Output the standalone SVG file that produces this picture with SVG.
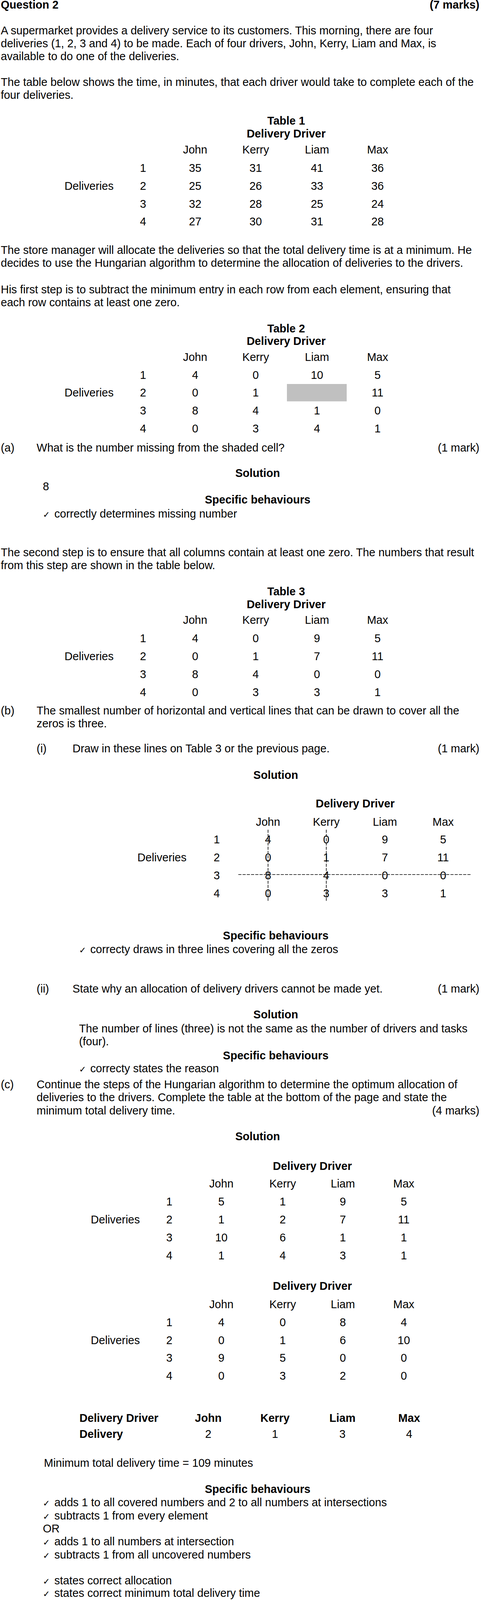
<svg xmlns="http://www.w3.org/2000/svg" width="1245" height="4149" viewBox="0 0 1245 4149" style="display:block;overflow:hidden">
<style>
text{font-family:"Liberation Sans",Arial,sans-serif;font-size:29px;fill:#000}
.b{font-weight:bold}
.c{text-anchor:middle}
.r{text-anchor:end}
.ck{font-family:"DejaVu Sans",sans-serif;font-size:22px}
.dash{stroke:#000;stroke-width:1.6;stroke-dasharray:8 3;fill:none}
</style>
<rect x="0" y="0" width="1245" height="4149" fill="#fff"/>
<g id="page" transform="scale(0.98795)">

<g id="header">
<text class="b" x="2" y="22">Question 2</text>
<text class="b r" x="1243" y="22">(7 marks)</text>
</g>

<g id="intro">
<text x="2" y="89">A supermarket provides a delivery service to its customers. This morning, there are four</text>
<text x="2" y="122.4">deliveries (1, 2, 3 and 4) to be made. Each of four drivers, John, Kerry, Liam and Max, is</text>
<text x="2" y="155.8">available to do one of the deliveries.</text>
<text x="2" y="222.6">The table below shows the time, in minutes, that each driver would take to complete each of the</text>
<text x="2" y="256">four deliveries.</text>
</g>

<g id="table1">
<text class="b c" x="742" y="322.5">Table 1</text>
<text class="b c" x="742" y="356">Delivery Driver</text>
<text class="c" x="506" y="398">John</text><text class="c" x="663" y="398">Kerry</text><text class="c" x="822" y="398">Liam</text><text class="c" x="979" y="398">Max</text>
<text class="c" x="371" y="445">1</text><text class="c" x="506" y="445">35</text><text class="c" x="663" y="445">31</text><text class="c" x="822" y="445">41</text><text class="c" x="979" y="445">36</text>
<text class="c" x="231" y="491.7">Deliveries</text>
<text class="c" x="371" y="491.7">2</text><text class="c" x="506" y="491.7">25</text><text class="c" x="663" y="491.7">26</text><text class="c" x="822" y="491.7">33</text><text class="c" x="979" y="491.7">36</text>
<text class="c" x="371" y="538.3">3</text><text class="c" x="506" y="538.3">32</text><text class="c" x="663" y="538.3">28</text><text class="c" x="822" y="538.3">25</text><text class="c" x="979" y="538.3">24</text>
<text class="c" x="371" y="584.5">4</text><text class="c" x="506" y="584.5">27</text><text class="c" x="663" y="584.5">30</text><text class="c" x="822" y="584.5">31</text><text class="c" x="979" y="584.5">28</text>
</g>

<g id="para-manager">
<text x="2" y="658.3">The store manager will allocate the deliveries so that the total delivery time is at a minimum. He</text>
<text x="2" y="691.7">decides to use the Hungarian algorithm to determine the allocation of deliveries to the drivers.</text>
<text x="2" y="760">His first step is to subtract the minimum entry in each row from each element, ensuring that</text>
<text x="2" y="793.4">each row contains at least one zero.</text>
</g>

<g id="table2">
<text class="b c" x="742" y="861.5">Table 2</text>
<text class="b c" x="742" y="893.5">Delivery Driver</text>
<text class="c" x="506" y="935">John</text><text class="c" x="663" y="935">Kerry</text><text class="c" x="822" y="935">Liam</text><text class="c" x="979" y="935">Max</text>
<text class="c" x="371" y="981.7">1</text><text class="c" x="506" y="981.7">4</text><text class="c" x="663" y="981.7">0</text><text class="c" x="822" y="981.7">10</text><text class="c" x="979" y="981.7">5</text>
<text class="c" x="231" y="1027">Deliveries</text>
<rect x="744" y="995" width="155" height="45" fill="#c0c0c0"/>
<text class="c" x="371" y="1027">2</text><text class="c" x="506" y="1027">0</text><text class="c" x="663" y="1027">1</text><text class="c" x="979" y="1027">11</text>
<text class="c" x="371" y="1074">3</text><text class="c" x="506" y="1074">8</text><text class="c" x="663" y="1074">4</text><text class="c" x="822" y="1074">1</text><text class="c" x="979" y="1074">0</text>
<text class="c" x="371" y="1121">4</text><text class="c" x="506" y="1121">0</text><text class="c" x="663" y="1121">3</text><text class="c" x="822" y="1121">4</text><text class="c" x="979" y="1121">1</text>
</g>

<g id="part-a">
<text x="2" y="1170">(a)</text>
<text x="95" y="1170">What is the number missing from the shaded cell?</text>
<text class="r" x="1243" y="1170">(1 mark)</text>
<text class="b c" x="668" y="1235.7">Solution</text>
<text x="111" y="1270">8</text>
<text class="b c" x="668" y="1305">Specific behaviours</text>
<text class="ck" x="111" y="1340.7">✓</text>
<text x="141" y="1340.7">correctly determines missing number</text>
</g>

<g id="para-second">
<text x="2" y="1441.7">The second step is to ensure that all columns contain at least one zero. The numbers that result</text>
<text x="2" y="1475">from this step are shown in the table below.</text>
</g>

<g id="table3">
<text class="b c" x="742" y="1542.7">Table 3</text>
<text class="b c" x="742" y="1576.5">Delivery Driver</text>
<text class="c" x="506" y="1617">John</text><text class="c" x="663" y="1617">Kerry</text><text class="c" x="822" y="1617">Liam</text><text class="c" x="979" y="1617">Max</text>
<text class="c" x="371" y="1664">1</text><text class="c" x="506" y="1664">4</text><text class="c" x="663" y="1664">0</text><text class="c" x="822" y="1664">9</text><text class="c" x="979" y="1664">5</text>
<text class="c" x="231" y="1710.5">Deliveries</text>
<text class="c" x="371" y="1710.5">2</text><text class="c" x="506" y="1710.5">0</text><text class="c" x="663" y="1710.5">1</text><text class="c" x="822" y="1710.5">7</text><text class="c" x="979" y="1710.5">11</text>
<text class="c" x="371" y="1757">3</text><text class="c" x="506" y="1757">8</text><text class="c" x="663" y="1757">4</text><text class="c" x="822" y="1757">0</text><text class="c" x="979" y="1757">0</text>
<text class="c" x="371" y="1803.5">4</text><text class="c" x="506" y="1803.5">0</text><text class="c" x="663" y="1803.5">3</text><text class="c" x="822" y="1803.5">3</text><text class="c" x="979" y="1803.5">1</text>
</g>

<g id="part-b">
<text x="2" y="1851.7">(b)</text>
<text x="95" y="1851.7">The smallest number of horizontal and vertical lines that can be drawn to cover all the</text>
<text x="95" y="1884.5">zeros is three.</text>
<text x="95" y="1950">(i)</text>
<text x="188" y="1950">Draw in these lines on Table 3 or the previous page.</text>
<text class="r" x="1243" y="1950">(1 mark)</text>
<text class="b c" x="715" y="2018.3">Solution</text>
</g>

<g id="solution-b-table">
<text class="b c" x="921" y="2092.7">Delivery Driver</text>
<text class="c" x="695" y="2139.3">John</text><text class="c" x="846" y="2139.3">Kerry</text><text class="c" x="998" y="2139.3">Liam</text><text class="c" x="1149" y="2139.3">Max</text>
<text class="c" x="562" y="2185.5">1</text><text class="c" x="695" y="2185.5">4</text><text class="c" x="846" y="2185.5">0</text><text class="c" x="998" y="2185.5">9</text><text class="c" x="1149" y="2185.5">5</text>
<text class="c" x="420" y="2232.3">Deliveries</text>
<text class="c" x="562" y="2232.3">2</text><text class="c" x="695" y="2232.3">0</text><text class="c" x="846" y="2232.3">1</text><text class="c" x="998" y="2232.3">7</text><text class="c" x="1149" y="2232.3">11</text>
<text class="c" x="562" y="2278.5">3</text><text class="c" x="695" y="2278.5">8</text><text class="c" x="846" y="2278.5">4</text><text class="c" x="998" y="2278.5">0</text><text class="c" x="1149" y="2278.5">0</text>
<text class="c" x="562" y="2325">4</text><text class="c" x="695" y="2325">0</text><text class="c" x="846" y="2325">3</text><text class="c" x="998" y="2325">3</text><text class="c" x="1149" y="2325">1</text>
</g>

<g id="connectors">
<line class="dash" x1="695" y1="2150" x2="695" y2="2337"/>
<line class="dash" x1="846" y1="2150" x2="846" y2="2337"/>
<line class="dash" x1="618" y1="2266" x2="1221" y2="2266"/>
</g>

<g id="part-b-i-behaviours">
<text class="b c" x="715" y="2434">Specific behaviours</text>
<text class="ck" x="205" y="2469.3">✓</text>
<text x="234" y="2469.3">correcty draws in three lines covering all the zeros</text>
</g>

<g id="part-b-ii">
<text x="95" y="2571.7">(ii)</text>
<text x="188" y="2571.7">State why an allocation of delivery drivers cannot be made yet.</text>
<text class="r" x="1243" y="2571.7">(1 mark)</text>
<text class="b c" x="715" y="2638.5">Solution</text>
<text x="205" y="2675">The number of lines (three) is not the same as the number of drivers and tasks</text>
<text x="205" y="2708.4">(four).</text>
<text class="b c" x="715" y="2745">Specific behaviours</text>
<text class="ck" x="205" y="2778.3">✓</text>
<text x="234" y="2778.3">correcty states the reason</text>
</g>

<g id="part-c">
<text x="2" y="2820">(c)</text>
<text x="95" y="2820">Continue the steps of the Hungarian algorithm to determine the optimum allocation of</text>
<text x="95" y="2853.4">deliveries to the drivers. Complete the table at the bottom of the page and state the</text>
<text x="95" y="2887.8">minimum total delivery time.</text>
<text class="r" x="1243" y="2887.8">(4 marks)</text>
<text class="b c" x="668" y="2955">Solution</text>
</g>

<g id="table4">
<text class="b c" x="810" y="3031.7">Delivery Driver</text>
<text class="c" x="574" y="3077.3">John</text><text class="c" x="733" y="3077.3">Kerry</text><text class="c" x="889" y="3077.3">Liam</text><text class="c" x="1047" y="3077.3">Max</text>
<text class="c" x="439" y="3123.5">1</text><text class="c" x="574" y="3123.5">5</text><text class="c" x="733" y="3123.5">1</text><text class="c" x="889" y="3123.5">9</text><text class="c" x="1047" y="3123.5">5</text>
<text class="c" x="299" y="3170">Deliveries</text>
<text class="c" x="439" y="3170">2</text><text class="c" x="574" y="3170">1</text><text class="c" x="733" y="3170">2</text><text class="c" x="889" y="3170">7</text><text class="c" x="1047" y="3170">11</text>
<text class="c" x="439" y="3216.7">3</text><text class="c" x="574" y="3216.7">10</text><text class="c" x="733" y="3216.7">6</text><text class="c" x="889" y="3216.7">1</text><text class="c" x="1047" y="3216.7">1</text>
<text class="c" x="439" y="3263.3">4</text><text class="c" x="574" y="3263.3">1</text><text class="c" x="733" y="3263.3">4</text><text class="c" x="889" y="3263.3">3</text><text class="c" x="1047" y="3263.3">1</text>
</g>

<g id="table5">
<text class="b c" x="810" y="3342.7">Delivery Driver</text>
<text class="c" x="574" y="3390">John</text><text class="c" x="733" y="3390">Kerry</text><text class="c" x="889" y="3390">Liam</text><text class="c" x="1047" y="3390">Max</text>
<text class="c" x="439" y="3436">1</text><text class="c" x="574" y="3436">4</text><text class="c" x="733" y="3436">0</text><text class="c" x="889" y="3436">8</text><text class="c" x="1047" y="3436">4</text>
<text class="c" x="299" y="3482.7">Deliveries</text>
<text class="c" x="439" y="3482.7">2</text><text class="c" x="574" y="3482.7">0</text><text class="c" x="733" y="3482.7">1</text><text class="c" x="889" y="3482.7">6</text><text class="c" x="1047" y="3482.7">10</text>
<text class="c" x="439" y="3528.5">3</text><text class="c" x="574" y="3528.5">9</text><text class="c" x="733" y="3528.5">5</text><text class="c" x="889" y="3528.5">0</text><text class="c" x="1047" y="3528.5">0</text>
<text class="c" x="439" y="3575">4</text><text class="c" x="574" y="3575">0</text><text class="c" x="733" y="3575">3</text><text class="c" x="889" y="3575">2</text><text class="c" x="1047" y="3575">0</text>
</g>

<g id="allocation">
<text class="b" x="206" y="3684.3">Delivery Driver</text>
<text class="b c" x="540" y="3684.3">John</text><text class="b c" x="713" y="3684.3">Kerry</text><text class="b c" x="888" y="3684.3">Liam</text><text class="b c" x="1061" y="3684.3">Max</text>
<text class="b" x="206" y="3726">Delivery</text>
<text class="c" x="540" y="3726">2</text><text class="c" x="713" y="3726">1</text><text class="c" x="888" y="3726">3</text><text class="c" x="1061" y="3726">4</text>
</g>

<g id="part-c-behaviours">
<text x="114" y="3800.7">Minimum total delivery time = 109 minutes</text>
<text class="b c" x="668" y="3869">Specific behaviours</text>
<text class="ck" x="111" y="3903.3">✓</text><text x="141" y="3903.3">adds 1 to all covered numbers and 2 to all numbers at intersections</text>
<text class="ck" x="111" y="3937.7">✓</text><text x="141" y="3937.7">subtracts 1 from every element</text>
<text x="111" y="3971">OR</text>
<text class="ck" x="111" y="4004.3">✓</text><text x="141" y="4004.3">adds 1 to all numbers at intersection</text>
<text class="ck" x="111" y="4038.3">✓</text><text x="141" y="4038.3">subtracts 1 from all uncovered numbers</text>
<text class="ck" x="111" y="4105">✓</text><text x="141" y="4105">states correct allocation</text>
<text class="ck" x="111" y="4138.3">✓</text><text x="141" y="4138.3">states correct minimum total delivery time</text>
</g>
</g>
</svg>
